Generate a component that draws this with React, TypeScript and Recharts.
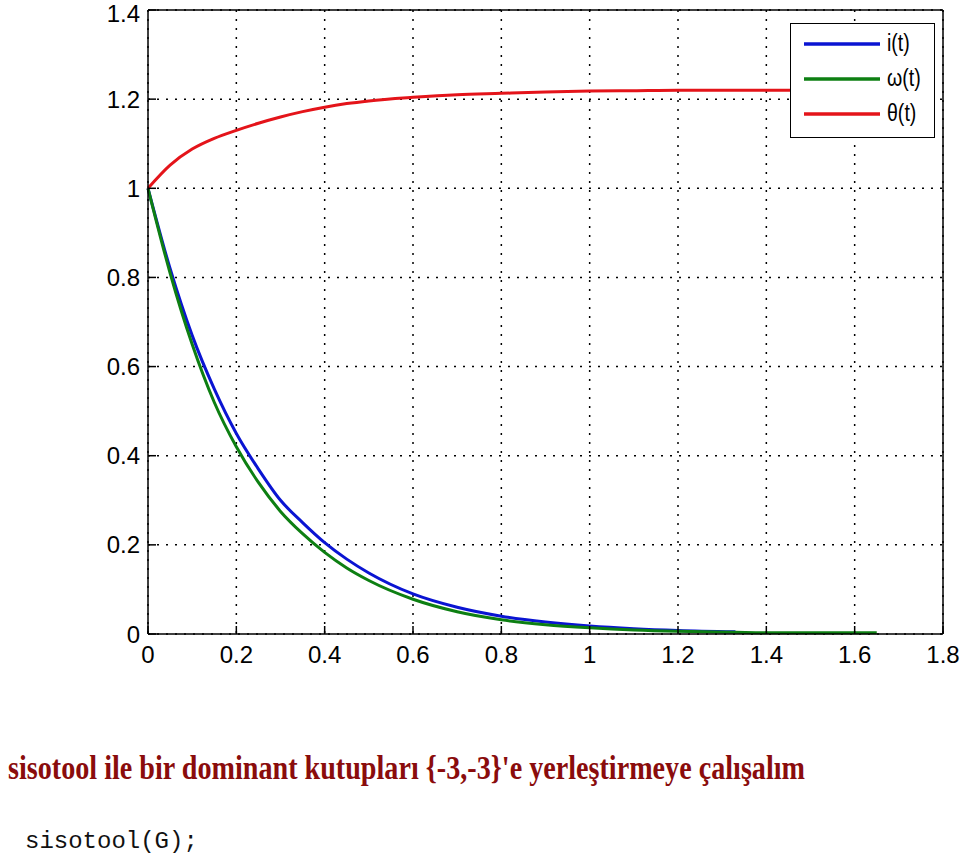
import { LineChart, Line, XAxis, YAxis, CartesianGrid } from 'recharts';

// time samples (s)
const times = [0, 0.05, 0.1, 0.15, 0.2, 0.25, 0.3, 0.35, 0.4, 0.45, 0.5, 0.6, 0.7, 0.8, 0.9, 1.0, 1.1, 1.2, 1.33, 1.4, 1.5, 1.65];
// i(t) stops at ~1.33
const current = [1, 0.82, 0.67, 0.55, 0.45, 0.37, 0.3, 0.25, 0.205, 0.168, 0.137, 0.09, 0.06, 0.04, 0.027, 0.018, 0.012, 0.008, 0.005, null, null, null];
const omega = [1, 0.81, 0.65, 0.52, 0.42, 0.34, 0.275, 0.225, 0.183, 0.148, 0.12, 0.078, 0.05, 0.032, 0.021, 0.014, 0.009, 0.006, 0.004, 0.003, 0.003, 0.003];
const theta = [1, 1.052, 1.088, 1.112, 1.13, 1.146, 1.16, 1.172, 1.182, 1.19, 1.196, 1.204, 1.21, 1.213, 1.216, 1.218, 1.219, 1.22, 1.22, 1.22, 1.22, 1.22];

const xTicks = [0, 0.2, 0.4, 0.6, 0.8, 1, 1.2, 1.4, 1.6, 1.8];
const yTicks = [0, 0.2, 0.4, 0.6, 0.8, 1, 1.2, 1.4];

const seriesInfo = [
  { key: 'i', label: 'i(t)', color: '#0a14d2' },
  { key: 'w', label: 'ω(t)', color: '#0d7f12' },
  { key: 'th', label: 'θ(t)', color: '#e4141a' },
];

const title = "sisotool ile bir dominant kutupları {-3,-3}'e yerleştirmeye çalışalım";
const codeLine = 'sisotool(G);';

const data = times.map((t, idx) => ({ t, i: current[idx], w: omega[idx], th: theta[idx] }));

const tickFont = { fontFamily: 'Liberation Sans, Arial, sans-serif', fontSize: 24, fill: '#000' };

function LegendBox() {
  return (
    <div
      style={{
        position: 'absolute',
        left: 790,
        top: 23,
        background: '#fff',
        border: '1.5px solid #000',
        width: 145,
        height: 115,
        boxSizing: 'border-box',
        paddingTop: 2,
      }}
    >
      {seriesInfo.map((s) => (
        <div key={s.key} style={{ display: 'flex', alignItems: 'center', height: 35 }}>
          <svg width={96} height={10}>
            <line x1={13} x2={89} y1={5} y2={5} stroke={s.color} strokeWidth={3.5} />
          </svg>
          <span style={{ fontFamily: 'Liberation Sans, Arial, sans-serif', fontSize: 23, color: '#000', display: 'inline-block', transform: 'scaleX(0.85)', transformOrigin: 'left' }}>
            {s.label}
          </span>
        </div>
      ))}
    </div>
  );
}

export default function App() {
  return (
    <div style={{ position: 'absolute', left: 0, top: 0, width: 960, height: 857, background: '#fff' }}>
      <LineChart width={960} height={700} data={data} margin={{ top: 0, right: 0, left: 0, bottom: 0 }}>
        <CartesianGrid stroke="#000" strokeWidth={1.5} strokeDasharray="2 7" />
        <XAxis
          dataKey="t"
          type="number"
          domain={[0, 1.8]}
          ticks={xTicks}
          height={66}
          tickSize={-8}
          tickMargin={20}
          tick={tickFont}
          axisLine={{ stroke: '#000', strokeWidth: 1.5 }}
          tickLine={{ stroke: '#000', strokeWidth: 1.5 }}
        />
        <XAxis
          xAxisId="top"
          orientation="top"
          type="number"
          domain={[0, 1.8]}
          ticks={xTicks}
          height={10}
          tickSize={-8}
          tick={false}
          axisLine={{ stroke: '#000', strokeWidth: 1.5 }}
          tickLine={{ stroke: '#000', strokeWidth: 1.5 }}
        />
        <YAxis
          type="number"
          domain={[0, 1.4]}
          ticks={yTicks}
          width={148}
          tickSize={-8}
          tickMargin={16}
          tick={tickFont}
          axisLine={{ stroke: '#000', strokeWidth: 1.5 }}
          tickLine={{ stroke: '#000', strokeWidth: 1.5 }}
        />
        <YAxis
          yAxisId="right"
          orientation="right"
          type="number"
          domain={[0, 1.4]}
          ticks={yTicks}
          width={17}
          tickSize={-8}
          tick={false}
          axisLine={{ stroke: '#000', strokeWidth: 1.5 }}
          tickLine={{ stroke: '#000', strokeWidth: 1.5 }}
        />
        {seriesInfo.map((s) => (
          <Line
            key={s.key}
            dataKey={s.key}
            type="monotone"
            stroke={s.color}
            strokeWidth={3}
            dot={false}
            isAnimationActive={false}
          />
        ))}
      </LineChart>
      <LegendBox />
      <svg width={960} height={157} style={{ position: 'absolute', left: 0, top: 700 }}>
        <text
          x={8}
          y={79}
          textLength={797}
          lengthAdjust="spacingAndGlyphs"
          fontFamily="Liberation Serif, Times New Roman, serif"
          fontWeight="bold"
          fontSize={33}
          fill="#8a0c0c"
        >
          {title}
        </text>
        <text x={25} y={148} fontFamily="Liberation Mono, Courier New, monospace" fontSize={24} fill="#111">
          {codeLine}
        </text>
      </svg>
    </div>
  );
}
